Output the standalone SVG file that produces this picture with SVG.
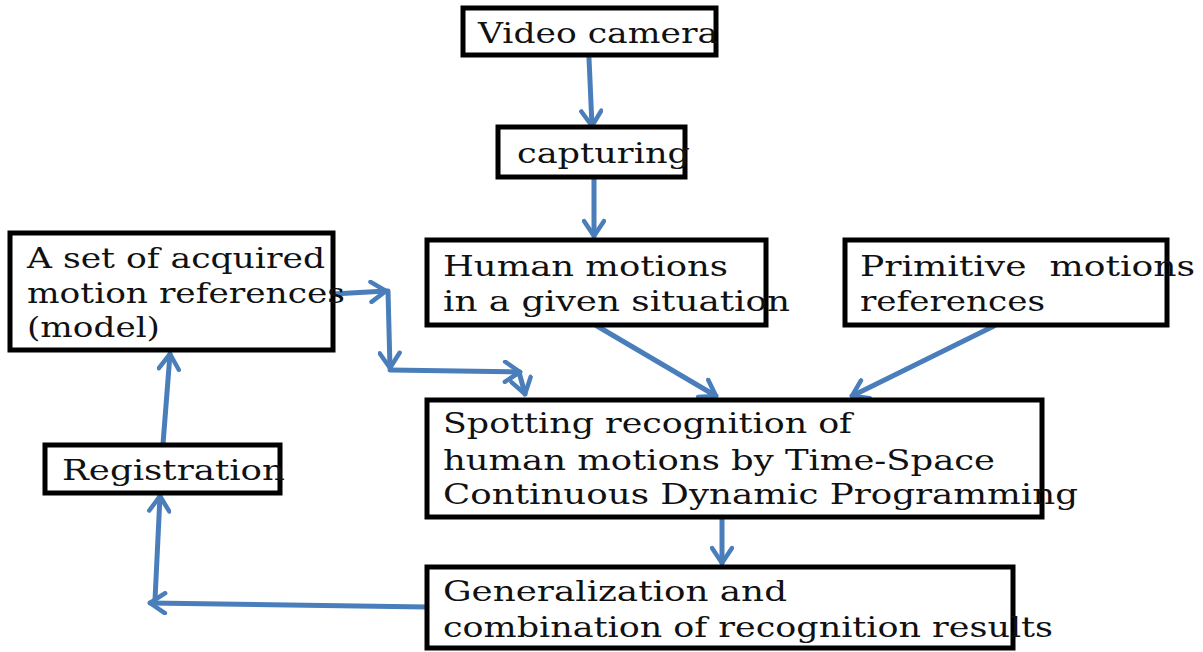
<svg xmlns="http://www.w3.org/2000/svg" width="1203" height="652" viewBox="0 0 1203 652">
<style>
.box{fill:#fff;stroke:#000;stroke-width:5}
.t{font-family:"DejaVu Serif","Liberation Serif",serif;font-size:28px;fill:#111}
.c{fill:none;stroke:#4A7EBB;stroke-width:5;stroke-linecap:round}
</style>
<defs>
<marker id="ah" viewBox="0 0 24 24" refX="21" refY="12" markerWidth="24" markerHeight="24" markerUnits="userSpaceOnUse" orient="auto">
<path d="M6,2 L21,12 L6,22" fill="none" stroke="#4A7EBB" stroke-width="4.5" stroke-linecap="round" stroke-linejoin="round"/>
</marker>
</defs>
<rect width="1203" height="652" fill="#fff"/>
<g id="connectors">
<path class="c" d="M589,58 L592,126" marker-end="url(#ah)"/>
<path class="c" d="M594,179 L594,236" marker-end="url(#ah)"/>
<path class="c" d="M333,294 L386,291" marker-end="url(#ah)"/>
<path class="c" d="M388,291 L390,368" marker-end="url(#ah)"/>
<path class="c" d="M390,370 L520,372" marker-end="url(#ah)"/>
<path class="c" d="M519,372 L525,394" marker-end="url(#ah)"/>
<path class="c" d="M597,326 L716,396" marker-end="url(#ah)"/>
<path class="c" d="M994,326 L852,396" marker-end="url(#ah)"/>
<path class="c" d="M722,519 L722,563" marker-end="url(#ah)"/>
<path class="c" d="M427,607 L150,603" marker-end="url(#ah)"/>
<path class="c" d="M155,600 L160,496" marker-end="url(#ah)"/>
<path class="c" d="M163,444 L170,354" marker-end="url(#ah)"/>
</g>
<g id="video-camera">
<rect class="box" x="463" y="8" width="253" height="47"/>
<text class="t" x="478" y="43" textLength="240" lengthAdjust="spacingAndGlyphs">Video camera</text>
</g>
<g id="capturing">
<rect class="box" x="498" y="127" width="187" height="50"/>
<text class="t" x="517" y="163" textLength="173" lengthAdjust="spacingAndGlyphs">capturing</text>
</g>
<g id="human-motions">
<rect class="box" x="427" y="240" width="339" height="85"/>
<text class="t" x="443" y="276" textLength="285" lengthAdjust="spacingAndGlyphs">Human motions</text>
<text class="t" x="443" y="311" textLength="347" lengthAdjust="spacingAndGlyphs">in a given situation</text>
</g>
<g id="primitive-motions">
<rect class="box" x="845" y="240" width="322" height="85"/>
<text class="t" x="860" y="276" textLength="335" lengthAdjust="spacingAndGlyphs" xml:space="preserve">Primitive  motions</text>
<text class="t" x="860" y="311" textLength="185" lengthAdjust="spacingAndGlyphs">references</text>
</g>
<g id="acquired-set">
<rect class="box" x="10" y="233" width="323" height="117"/>
<text class="t" x="27" y="268" textLength="298" lengthAdjust="spacingAndGlyphs">A set of acquired</text>
<text class="t" x="27" y="303" textLength="318" lengthAdjust="spacingAndGlyphs">motion references</text>
<text class="t" x="27" y="337" textLength="133" lengthAdjust="spacingAndGlyphs">(model)</text>
</g>
<g id="spotting">
<rect class="box" x="427" y="400" width="615" height="117"/>
<text class="t" x="443" y="433" textLength="409" lengthAdjust="spacingAndGlyphs">Spotting recognition of</text>
<text class="t" x="443" y="470" textLength="552" lengthAdjust="spacingAndGlyphs">human motions by Time-Space</text>
<text class="t" x="443" y="504" textLength="635" lengthAdjust="spacingAndGlyphs">Continuous Dynamic Programming</text>
</g>
<g id="registration">
<rect class="box" x="45" y="445" width="235" height="48"/>
<text class="t" x="62" y="480" textLength="223" lengthAdjust="spacingAndGlyphs">Registration</text>
</g>
<g id="generalization">
<rect class="box" x="427" y="567" width="586" height="81"/>
<text class="t" x="443" y="601" textLength="344" lengthAdjust="spacingAndGlyphs">Generalization and</text>
<text class="t" x="443" y="637" textLength="610" lengthAdjust="spacingAndGlyphs">combination of recognition results</text>
</g>
</svg>
